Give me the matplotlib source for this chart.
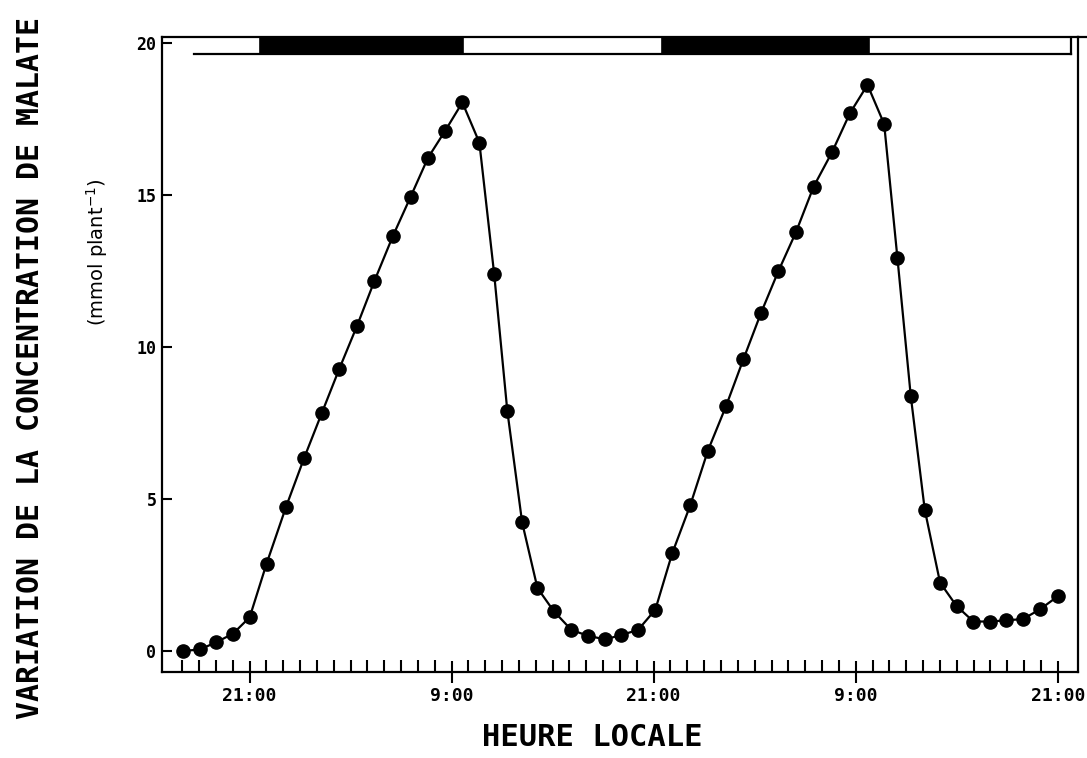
import numpy as np
import matplotlib.pyplot as plt
from matplotlib.patches import Rectangle
from matplotlib.lines import Line2D

# temps en heures, 0 = 21:00 du premier jour
heures = [-3.96, -2.95, -1.97, -0.98, 0.01, 1.01, 2.16, 3.25, 4.30, 5.32,
          6.37, 7.42, 8.51, 9.57, 10.60, 11.61, 12.64, 13.65, 14.53, 15.31,
          16.19, 17.10, 18.07, 19.12, 20.11, 21.13, 22.08, 23.07, 24.10, 25.10,
          26.17, 27.22, 28.30, 29.33, 30.38, 31.40, 32.45, 33.50, 34.59, 35.65,
          36.70, 37.69, 38.48, 39.27, 40.10, 41.01, 41.99, 42.99, 43.97, 44.94,
          45.93, 46.94, 48.00]
# variation de malate (mmol plant-1)
malate = [0.0, 0.05, 0.29, 0.57, 1.11, 2.87, 4.73, 6.36, 7.84, 9.27,
          10.68, 12.18, 13.65, 14.95, 16.23, 17.11, 18.05, 16.73, 12.40, 7.90,
          4.23, 2.07, 1.31, 0.69, 0.50, 0.38, 0.53, 0.69, 1.36, 3.21,
          4.79, 6.59, 8.06, 9.60, 11.13, 12.49, 13.78, 15.28, 16.41, 17.69,
          18.63, 17.34, 12.92, 8.39, 4.65, 2.25, 1.48, 0.97, 0.97, 1.01,
          1.05, 1.37, 1.80]

# barre jour / nuit en haut du graphe
nuit_debut = [0.6, 24.5]
nuit_fin = [12.7, 36.8]
barre_debut = -3.3
barre_fin = 48.8

xticks_major = [0, 12, 24, 36, 48]
xtick_labels = ['21:00', '9:00', '21:00', '9:00', '21:00']
yticks = [0, 5, 10, 15, 20]

mono = 'DejaVu Sans Mono'

fig = plt.figure(figsize=(10.87, 7.58), dpi=100)
ax = fig.add_axes([0.149, 0.1135, 0.9917 - 0.149, 0.951 - 0.1135])

ax.plot(heures, malate, 'k-', linewidth=1.6, marker='o', markersize=9.5,
        markerfacecolor='k', markeredgecolor='k', clip_on=False, zorder=5)

ax.set_xlim(-5.2, 49.2)
ax.set_ylim(-0.69, 20.2)

# barre lumiere / obscurite
y_bas, y_haut = 19.65, 20.2
for d, f in zip(nuit_debut, nuit_fin):
    ax.add_patch(Rectangle((d, y_bas), f - d, y_haut - y_bas,
                           facecolor='k', edgecolor='k', linewidth=1.2))
ax.plot([barre_debut, barre_fin], [y_bas, y_bas], 'k-', linewidth=1.6)
ax.plot([barre_fin, barre_fin], [y_bas, y_haut], 'k-', linewidth=1.6)
ax.add_line(Line2D([1.0, 1.012], [1.0, 1.0], transform=ax.transAxes,
                   color='k', linewidth=1.6, clip_on=False))

for s in ax.spines.values():
    s.set_linewidth(1.6)

# axe des x : graduation toutes les heures
ax.set_xticks(xticks_major)
ax.set_xticks(np.arange(-4, 49), minor=True)
ax.set_xticklabels(xtick_labels, fontfamily=mono, fontweight='bold', fontsize=13)
ax.tick_params(axis='x', which='major', direction='inout', length=16, width=1.5, pad=3)
ax.tick_params(axis='x', which='minor', direction='in', length=9, width=1.5)

ax.set_yticks(yticks)
ax.set_yticklabels([str(v) for v in yticks], fontfamily=mono, fontweight='bold', fontsize=12)
ax.tick_params(axis='y', direction='in', length=7, width=1.5, pad=4)

fig.text(0.545, 0.027, 'HEURE LOCALE', ha='center', va='center',
         fontfamily=mono, fontweight='bold', fontsize=22)
fig.text(0.028, 0.515, 'VARIATION DE LA CONCENTRATION DE MALATE', rotation=90,
         ha='center', va='center', fontfamily=mono, fontweight='bold', fontsize=21.5)
fig.text(0.089, 0.668, r'(mmol plant$^{-1}$)', rotation=90,
         ha='center', va='center', fontsize=14)

plt.savefig('out.png', dpi=100)
